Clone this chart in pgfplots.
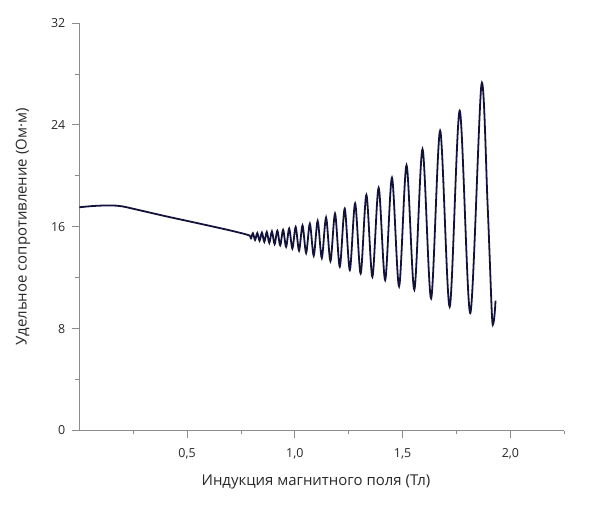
\documentclass[border=0pt]{standalone}
\usepackage{fontspec}
\setmainfont{Open Sans}
\usepackage{pgfplots}
\pgfplotsset{compat=1.18}
\definecolor{curve}{RGB}{18,18,58}
\definecolor{axgray}{RGB}{140,140,140}
\definecolor{txt}{RGB}{40,40,40}
\begin{document}
\begin{tikzpicture}
\begin{axis}[
  scale only axis, width=485bp, height=407.5bp,
  xmin=0, xmax=2.25, ymin=0, ymax=32,
  axis x line*=bottom, axis y line*=left,
  axis line style={axgray, line width=0.8pt, -},
  xtick={0.5,1,1.5,2}, minor xtick={0.25,0.75,1.25,1.75,2.25},
  ytick={0,8,16,24,32}, minor ytick={4,12,20,28},
  tick align=outside,
  major tick length=7.5bp, minor tick length=3.8bp,
  every tick/.style={axgray, line width=0.8pt},
  /pgf/number format/assume math mode=true,
  ticklabel style={font=\fontsize{12.5}{14}\selectfont, text=txt},
  xticklabel style={yshift=-7bp, /pgf/number format/.cd, fixed, fixed zerofill, precision=1, use comma},
  yticklabel style={xshift=-3bp, /pgf/number format/.cd, fixed, precision=0},
  xlabel={Индукция магнитного поля (Тл)},
  ylabel={Удельное сопротивление (Ом·м)},
  every axis x label/.style={at={(axis description cs:0.488,-0.1339)}, anchor=base, font=\fontsize{15}{17}\selectfont, text=txt},
  every axis y label/.style={at={(axis description cs:-0.1085,0.5)}, anchor=base, rotate=90, font=\fontsize{15}{17}\selectfont, text=txt},
]
\coordinate (SW) at (rel axis cs:0,0);
\addplot[curve, line width=1.8pt, smooth] coordinates {
(0,17.53) (0.05,17.61) (0.1,17.66) (0.155,17.67) (0.2,17.6) (0.279,17.3)
(0.4,16.83) (0.557,16.25) (0.7,15.71) (0.79,15.31)
(0.7954,15.02) (0.8053,15.49) (0.8154,14.96) (0.8257,15.51) (0.8363,14.90)
(0.8471,15.54) (0.8583,14.82) (0.8697,15.58) (0.8815,14.74) (0.8936,15.63)
(0.9060,14.64) (0.9188,15.69) (0.9320,14.54) (0.9455,15.76) (0.9594,14.42)
(0.9737,15.86) (0.9885,14.29) (1.0037,15.98) (1.0194,14.13) (1.0356,16.10)
(1.0523,13.94) (1.0696,16.24) (1.0875,13.73) (1.1059,16.45) (1.1250,13.55)
(1.1448,16.72) (1.1652,13.30) (1.1865,17.03) (1.2085,12.86) (1.2313,17.42)
(1.2550,12.60) (1.2796,17.84) (1.3053,12.33) (1.3319,18.50) (1.3597,12.07)
(1.3887,19.06) (1.4190,11.81) (1.4505,19.85) (1.4836,11.32) (1.5181,20.83)
(1.5543,11.06) (1.5923,22.09) (1.6322,10.38) (1.6741,23.54) (1.7183,9.72)
(1.7648,25.11) (1.8139,9.22) (1.8658,27.19) (1.8940,17.8) (1.9140,9.15)
(1.9209,8.43) (1.9270,9.2) (1.9310,10.2)
};
\end{axis}
\pgfresetboundingbox
\path[use as bounding box] ([shift={(-79.3bp,-75.5bp)}]SW) rectangle ++(600bp,506bp);
\end{tikzpicture}
\end{document}
